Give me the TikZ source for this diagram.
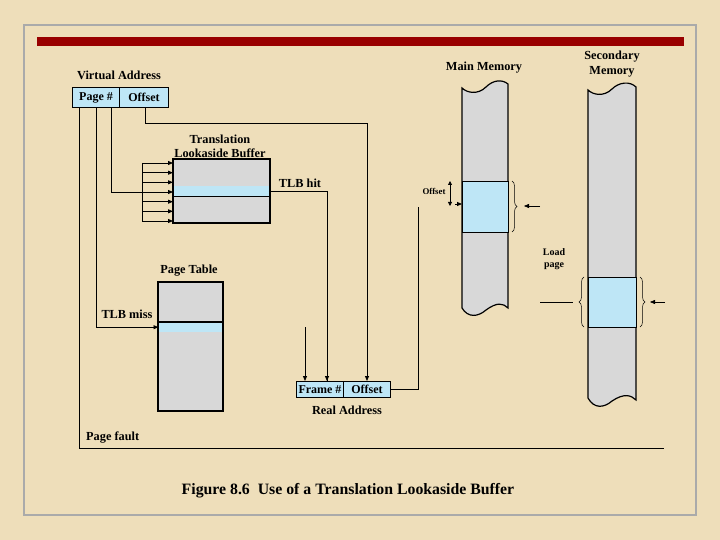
\documentclass[tikz,border=0pt]{standalone}
\usepackage{fontspec}
\setmainfont{Liberation Serif}
\usetikzlibrary{arrows.meta,decorations.pathreplacing,calc}
\definecolor{bg}{RGB}{238,222,186}
\definecolor{lblue}{RGB}{190,230,246}
\definecolor{lgray}{RGB}{216,216,216}
\definecolor{darkred}{RGB}{153,0,0}
\definecolor{framegray}{RGB}{170,170,170}
\begin{document}
\begin{tikzpicture}[x=1pt,y=-1pt,
  lbl/.style={font=\bfseries\fontsize{12.3}{13}\selectfont, inner sep=0},
  small/.style={font=\bfseries\fontsize{10}{11}\selectfont, inner sep=0},
  cell/.style={draw=black, line width=1pt, fill=lblue, inner sep=0, font=\bfseries\fontsize{12}{13}\selectfont},
  conn/.style={line width=0.8pt},
  arr/.style={conn, -{Triangle[length=5pt,width=4pt]}},
  tbl/.style={draw=black, line width=1.2pt, fill=lgray, inner sep=0},
  row/.style={fill=lblue, inner sep=0},
  brc/.style={decorate, decoration={brace, amplitude=5pt}, line width=0.5pt},
]
\fill[bg] (0,0) rectangle (720,540);
\useasboundingbox (0,0) rectangle (720,540);
\draw[framegray, line width=1.5pt] (24,25) rectangle (696,515);
\fill[darkred] (37,37) rectangle (684,46);

% Virtual address
\node[lbl] (valbl) at (119,75) {Virtual Address};
\node[cell, minimum width=47pt, minimum height=20pt, anchor=north west] (vpage) at (72,87) {Page \#};
\node[cell, minimum width=49pt, minimum height=20pt, anchor=north west] (voff) at (119,87) {Offset};

% TLB
\node[lbl] (tlbl1) at (220,139) {Translation};
\node[lbl] (tlbl2) at (220,153) {Lookaside Buffer};
\node[tbl, minimum width=96pt, minimum height=63pt, anchor=north west] (tlb) at (173,159) {};
\node[row, minimum width=95pt, minimum height=10pt, anchor=north west] (tlbrow) at (173.5,186) {};
\draw[line width=1.2pt] (tlbrow.south west) -- (tlbrow.south east);
\draw[line width=1.2pt] (tlb.north west) rectangle (tlb.south east);

% fan into TLB
\coordinate (fan) at (142,192);
\foreach \d [count=\i] in {4,13.7,23.3,33,42.7,52.3,62} {
  \coordinate (tin\i) at ($(tlb.north west)+(0,\d)$);
  \draw[arr] (tin\i -| fan) -- (tin\i);
}
\draw[conn] (tin1 -| fan) -- (tin7 -| fan);
\draw[conn] ([xshift=39pt]vpage.south west) |- (fan);

% Page table
\node[lbl] (ptlbl) at (189,271) {Page Table};
\node[tbl, minimum width=64pt, minimum height=128pt, anchor=north west] (pt) at (158,282) {};
\node[row, minimum width=63pt, minimum height=10pt, anchor=north west] (ptrow) at (158.5,322) {};
\draw[line width=1.2pt] (ptrow.north west) -- (ptrow.north east);
\draw[line width=1.2pt] (pt.north west) rectangle (pt.south east);
\node[lbl] (misslbl) at (127,314) {TLB miss};
\draw[arr] ([xshift=24pt]vpage.south west) |- (ptrow.west);

% Page fault
\coordinate (pfend) at (664,448);
\draw[conn] ([xshift=7pt]vpage.south west) |- (pfend);
\node[lbl, anchor=west] (pflbl) at (86,438) {Page fault};

% Real address
\node[cell, minimum width=47pt, minimum height=16pt, anchor=north west] (rframe) at (296,381) {Frame \#};
\node[cell, minimum width=47pt, minimum height=16pt, anchor=north west] (roff) at (343,381) {Offset};
\node[lbl] (ralbl) at (347,410) {Real Address};

\node[lbl] (hitlbl) at (300,183) {TLB hit};
\draw[conn] (tlbrow.east) -| ([xshift=31pt]rframe.north west);
\draw[arr] ([xshift=31pt,yshift=14pt]rframe.north west) -- ([xshift=31pt]rframe.north west);
\coordinate (ptout) at (305,327);
\draw[arr] (ptout) -- ([xshift=9pt]rframe.north west);
\coordinate (offturn) at (367,123);
\draw[arr] ([xshift=26pt]voff.south west) |- (offturn) -- ([xshift=24pt]roff.north west);
\coordinate (upend) at (418,207);
\draw[conn] (roff.east) -| (upend);

% Main memory
\node[lbl] (mmlbl) at (484,68) {Main Memory};
\draw[line width=1.2pt, fill=lgray] (462,88) .. controls (467,93) and (478,95) .. (486,87)
  .. controls (493,80) and (502,79) .. (508,84) -- (508,308)
  .. controls (503,303) and (497,302) .. (486,310)
  .. controls (478,317) and (468,318) .. (462,308) -- cycle;
\node[draw, line width=1.2pt, fill=lblue, minimum width=46pt, minimum height=51pt, inner sep=0, anchor=north west] (mpage) at (462,181) {};
\draw[{Triangle[length=4pt,width=4pt]}-{Triangle[length=4pt,width=4pt]}, conn] (450,181) -- (450,206);
\node[font=\bfseries\fontsize{8.8}{9}\selectfont, inner sep=0] (offlbl) at (434,191) {Offset};
\coordinate (offtip) at (455,204);
\draw[arr] (offtip) -- (offtip -| mpage.west);
\draw[brc] (512,181) -- (512,232);
\coordinate (mmarr) at (540,206);
\draw[arr, line width=0.5pt] (mmarr) -- (524,206);

\node[small] (lp1) at (554,252) {Load};
\node[small] (lp2) at (554,266) {page};

% Secondary memory
\node[lbl] (sm1) at (612,57) {Secondary};
\node[lbl] (sm2) at (612,72) {Memory};
\draw[line width=1.2pt, fill=lgray] (588,90) .. controls (593,95) and (604,97) .. (612,89)
  .. controls (619,82) and (630,81) .. (636,87) -- (636,400)
  .. controls (631,395) and (624,393) .. (612,401)
  .. controls (604,408) and (594,409) .. (588,398) -- cycle;
\node[draw, line width=1.2pt, fill=lblue, minimum width=48pt, minimum height=50pt, inner sep=0, anchor=north west] (spage) at (588,277) {};
\draw[brc] (584,327) -- (584,277);
\draw[brc] (640,277) -- (640,327);
\coordinate (slin) at (540,302);
\draw[conn, line width=0.5pt] (slin) -- (573,302);
\coordinate (sarr) at (665,302);
\draw[arr, line width=0.5pt] (sarr) -- (650,302);

% Caption
\node[font=\bfseries\fontsize{15.8}{17}\selectfont, inner sep=0] (cap) at (348,491) {Figure 8.6\ \ Use of a Translation Lookaside Buffer};
\end{tikzpicture}
\end{document}
